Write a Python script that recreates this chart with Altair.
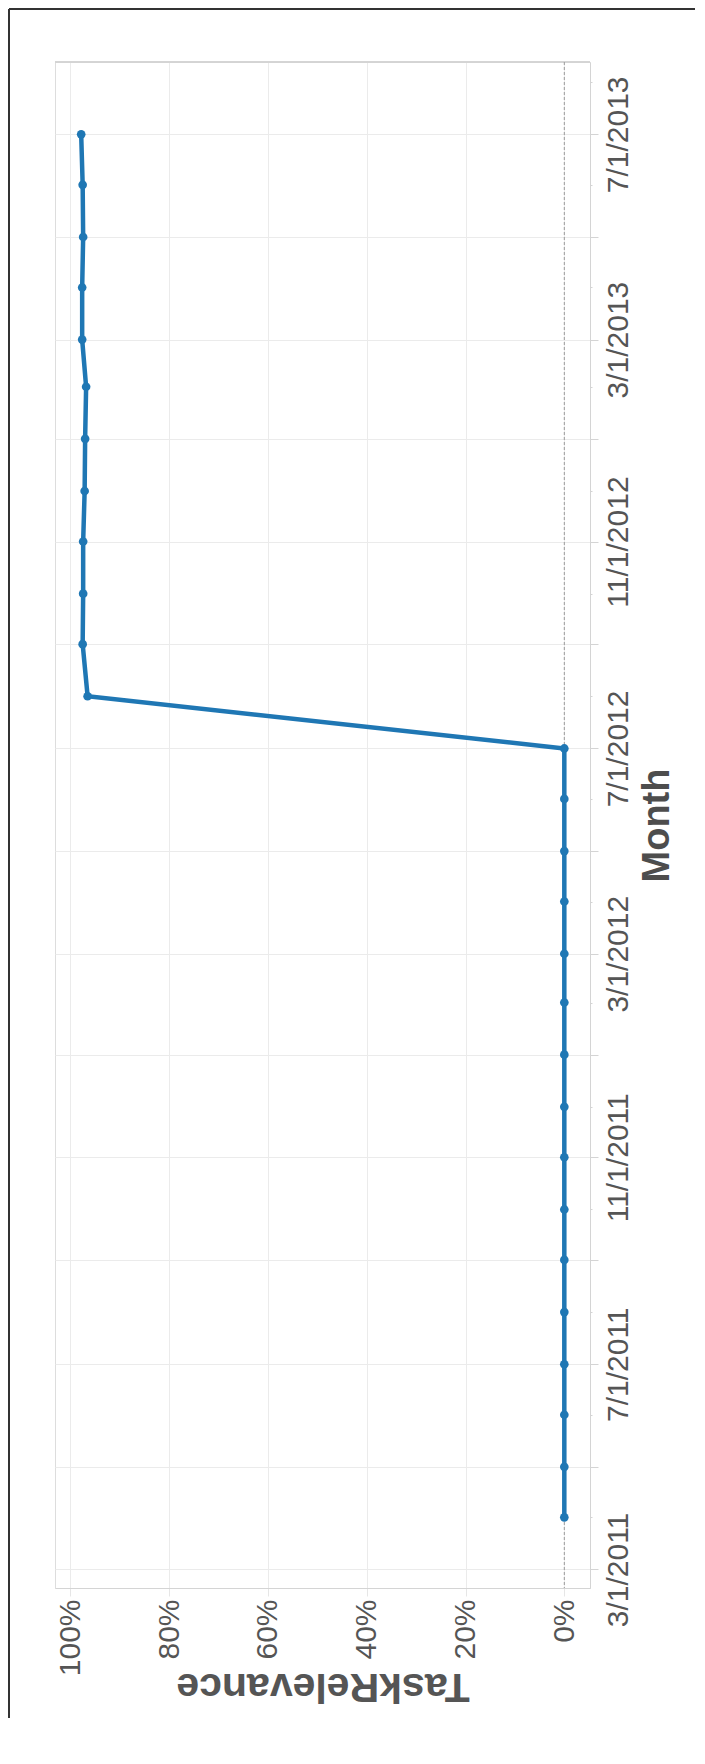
import altair as alt
import pandas as pd

# ---- data ----
months = [
    "2011-04-01", "2011-05-01", "2011-06-01", "2011-07-01", "2011-08-01", "2011-09-01",
    "2011-10-01", "2011-11-01", "2011-12-01", "2012-01-01", "2012-02-01", "2012-03-01",
    "2012-04-01", "2012-05-01", "2012-06-01", "2012-07-01", "2012-08-01", "2012-09-01",
    "2012-10-01", "2012-11-01", "2012-12-01", "2013-01-01", "2013-02-01", "2013-03-01",
    "2013-04-01", "2013-05-01", "2013-06-01", "2013-07-01",
]
task_relevance = [
    0.0, 0.0, 0.0, 0.0, 0.0, 0.0,
    0.0, 0.0, 0.0, 0.0, 0.0, 0.0,
    0.0, 0.0, 0.0, 0.0, 0.965, 0.975,
    0.974, 0.974, 0.971, 0.970, 0.968, 0.976,
    0.976, 0.974, 0.975, 0.978,
]
pct_ticks = [0.0, 0.2, 0.4, 0.6, 0.8, 1.0]

df = pd.DataFrame({"Month": months, "TaskRelevance": task_relevance})

FONT = "Liberation Sans Narrow, Liberation Sans, Arial"
LINE = "#1f77b4"
W, H = 535, 1526
PAD = {"left": 47, "top": 54, "right": 105, "bottom": 130}
X_DOMAIN = [-0.052, 1.031]

x_enc = alt.X(
    "TaskRelevance:Q",
    scale=alt.Scale(domain=X_DOMAIN, reverse=True, nice=False, zero=False),
    axis=alt.Axis(
        orient="bottom", values=pct_ticks, format=".0%",
        labelAngle=270, labelAlign="right", labelBaseline="middle",
        labelPadding=3, labelFont=FONT, labelFontSize=30, labelColor="#555555",
        labelOverlap=False, labelFlush=False,
        tickSize=8, tickColor="#e6e6e6", domainColor="#d4d4d4",
        gridColor="#ebebeb", gridWidth=1,
        title="TaskRelevance", titleAngle=180, titleX=W / 2, titleY=85,
        titleAlign="center", titleBaseline="alphabetic",
        titleFont=FONT, titleFontSize=41, titleFontWeight="bold", titleColor="#555555",
    ),
)

y_enc = alt.Y(
    "Month:T",
    scale=alt.Scale(
        type="utc", nice=False,
        domain=[alt.DateTime(year=2011, month=2, date=18, utc=True),
                alt.DateTime(year=2013, month=8, date=13, utc=True)],
    ),
    axis=alt.Axis(
        orient="right",
        tickCount={"interval": "month", "step": 1},
        labelExpr="utcmonth(datum.value) % 4 == 2 ? (utcmonth(datum.value) + 1) + '/1/' + utcyear(datum.value) : ''",
        labelAngle=270, labelAlign="center", labelBaseline="top",
        labelPadding=5, labelFont=FONT, labelFontSize=30, labelColor="#555555",
        labelOverlap=False, labelFlush=False,
        tickSize={"condition": {"test": "utcmonth(datum.value) % 2 == 0", "value": 8}, "value": 2},
        tickColor="#d4d4d4", domainColor="#d4d4d4",
        gridColor="#ebebeb", gridWidth=1,
        gridOpacity={"condition": {"test": "utcmonth(datum.value) % 2 == 0", "value": 1}, "value": 0},
        title="Month", titleAngle=270, titleX=78, titleY=H / 2,
        titleAlign="center", titleBaseline="alphabetic",
        titleFont=FONT, titleFontSize=38, titleFontWeight="bold", titleColor="#4d4d4d",
    ),
)

base = alt.Chart(df)

# outer frame (left and top edges only; the rest lies outside the picture)
frame_left = base.mark_rule(color="#333333", strokeWidth=2).encode(
    x=alt.value(-46), y=alt.value(-53), y2=alt.value(H + PAD["bottom"])
)
frame_top = base.mark_rule(color="#333333", strokeWidth=2).encode(
    x=alt.value(-46), x2=alt.value(W + PAD["right"]), y=alt.value(-53)
)

top_border = base.mark_rule(color="#d4d4d4", strokeWidth=1).encode(
    x=alt.value(0), x2=alt.value("width"), y=alt.value(0)
)

zero_line = alt.Chart(pd.DataFrame({"z": [0.0]})).mark_rule(
    color="#9a9a9a", strokeDash=[3, 2], strokeWidth=1
).encode(x=alt.X("z:Q", scale=alt.Scale(domain=X_DOMAIN, reverse=True, nice=False, zero=False)))

line = base.mark_line(color=LINE, strokeWidth=4.5).encode(x=x_enc, y=y_enc, order="Month:T")
pts = base.mark_point(filled=True, color=LINE, size=75, opacity=1).encode(x=x_enc, y=y_enc)

chart = alt.layer(frame_left, frame_top, top_border, zero_line, line, pts).properties(
    width=W, height=H,
    autosize=alt.AutoSizeParams(type="none"),
    padding=PAD,
).configure_view(stroke=None).configure(background="white")

chart.save("out.html", embed_options={"renderer": "svg", "actions": False})
